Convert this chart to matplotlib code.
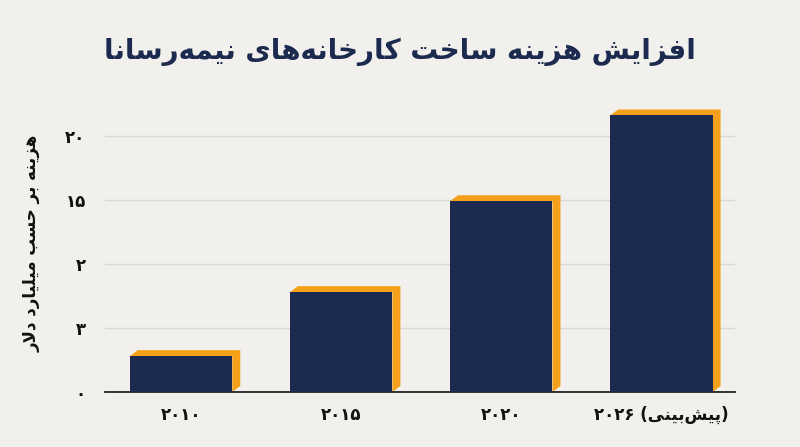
import matplotlib
matplotlib.use("Agg")
import matplotlib.pyplot as plt
from matplotlib.patches import Polygon

FORMS = {
 '\u0627': ('\uFE8D','\uFE8E',None,None),
 '\u0628': ('\uFE8F','\uFE90','\uFE91','\uFE92'),
 '\u062A': ('\uFE95','\uFE96','\uFE97','\uFE98'),
 '\u062D': ('\uFEA1','\uFEA2','\uFEA3','\uFEA4'),
 '\u062E': ('\uFEA5','\uFEA6','\uFEA7','\uFEA8'),
 '\u062F': ('\uFEA9','\uFEAA',None,None),
 '\u0631': ('\uFEAD','\uFEAE',None,None),
 '\u0632': ('\uFEAF','\uFEB0',None,None),
 '\u0633': ('\uFEB1','\uFEB2','\uFEB3','\uFEB4'),
 '\u0634': ('\uFEB5','\uFEB6','\uFEB7','\uFEB8'),
 '\u0641': ('\uFED1','\uFED2','\uFED3','\uFED4'),
 '\u0644': ('\uFEDD','\uFEDE','\uFEDF','\uFEE0'),
 '\u0645': ('\uFEE1','\uFEE2','\uFEE3','\uFEE4'),
 '\u0646': ('\uFEE5','\uFEE6','\uFEE7','\uFEE8'),
 '\u0647': ('\uFEE9','\uFEEA','\uFEEB','\uFEEC'),
 '\u067E': ('\uFB56','\uFB57','\uFB58','\uFB59'),
 '\u06A9': ('\uFB8E','\uFB8F','\uFB90','\uFB91'),
 '\u06CC': ('\uFBFC','\uFBFD','\uFBFE','\uFBFF'),
}

def dual(c):
    return c in FORMS and FORMS[c][2] is not None

def shape(s):
    out = []
    i = 0
    n = len(s)
    while i < n:
        c = s[i]
        if c not in FORMS:
            out.append(c if c != '\u200c' else '')
            i += 1
            continue
        prev = s[i-1] if i > 0 else ''
        jp = dual(prev)
        if c == '\u0644' and i + 1 < n and s[i+1] == '\u0627':
            out.append('\uFEFC' if jp else '\uFEFB')
            i += 2
            continue
        nxt = s[i+1] if i + 1 < n else ''
        jn = dual(c) and nxt in FORMS
        iso, fin, ini, med = FORMS[c]
        if jp and jn:
            out.append(med)
        elif jp:
            out.append(fin)
        elif jn:
            out.append(ini)
        else:
            out.append(iso)
        i += 1
    return ''.join(out)[::-1]

title = shape("افزایش هزینه ساخت کارخانه\u200cهای نیمه\u200cرسانا")
ylabel = shape("هزینه بر حسب میلیارد دلار")
categories = ["۲۰۱۰", "۲۰۱۵", "۲۰۲۰", "۲۰۲۶ (" + shape("پیش\u200cبینی") + ")"]
values = [2.8, 7.8, 14.9, 21.6]
yticks = [0, 5, 10, 15, 20]
yticklabels = ["۰", "۳", "۲", "۱۵", "۲۰"]

navy = "#1b2a4e"
orange = "#f5a01a"
bg = "#f1f0ec"

plt.rcParams['font.family'] = ['DejaVu Sans']
fig = plt.figure(figsize=(8, 4.47), dpi=100, facecolor=bg)
ax = fig.add_axes([105/800, 1-392/447, 630/800, 297/447], facecolor=bg)

w = 0.64
dx = 0.05
dy = 0.47
x = list(range(len(values)))
for xi, v in zip(x, values):
    l, r = xi - w/2, xi + w/2
    side = Polygon([(l, v), (l+dx, v+dy), (r+dx, v+dy), (r+dx, dy), (r, 0), (r, v)],
                   closed=True, facecolor=orange, edgecolor='none', zorder=2)
    ax.add_patch(side)
ax.bar(x, values, width=w, color=navy, zorder=3)

ax.set_xlim(-0.475, 3.46)
ax.set_ylim(0, 23.2)
ax.set_yticks(yticks)
ax.set_yticklabels(yticklabels, fontsize=12, fontweight='bold', color='#111')
ax.set_xticks(x)
ax.set_xticklabels(categories, fontsize=12, fontweight='bold', color='#111')
ax.grid(axis='y', color='#d8d8d8', linewidth=1, zorder=0)
for s in ['left', 'right', 'top']:
    ax.spines[s].set_visible(False)
ax.spines['bottom'].set_color('#222')
ax.spines['bottom'].set_linewidth(1.3)
ax.tick_params(axis='both', length=0, pad=14)
ax.tick_params(axis='x', pad=10)
ax.set_ylabel(ylabel, fontsize=12, fontweight='bold', color='#111', labelpad=18)
fig.text(0.5, 1-52/447, title, ha='center', va='center', fontsize=20,
         fontweight='bold', color=navy)
fig.savefig("out.png", dpi=100, facecolor=bg)
